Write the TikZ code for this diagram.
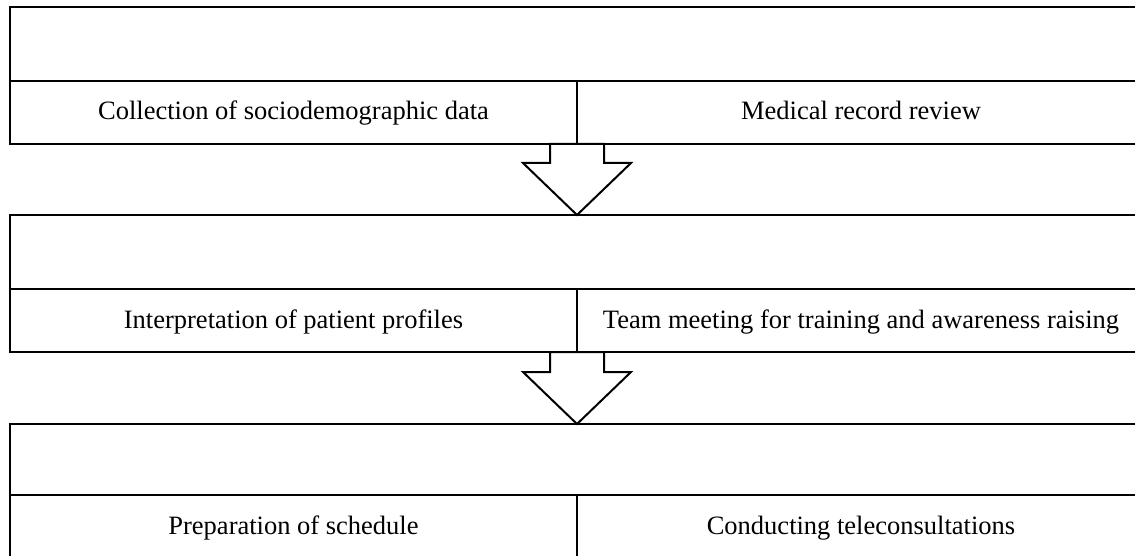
\documentclass[tikz,border=0pt]{standalone}
\usepackage{fontspec}
\setmainfont{Liberation Serif}
\usetikzlibrary{positioning, calc}

\begin{document}
\begin{tikzpicture}[x=1pt, y=-1pt,
    head/.style={draw, line width=2pt, outer sep=0pt, inner sep=0pt, minimum width=1135pt, minimum height=74pt},
    cell/.style={draw, line width=2pt, outer sep=0pt, inner sep=0pt, minimum width=567pt, minimum height=63pt,
        text height=20pt, text depth=5pt, font=\fontsize{26.5}{30}\selectfont},
    blockarrow/.style={draw, line width=2pt, fill=white, line join=miter}]
    \clip (0,0) rectangle (1135,556);
    % stage 1
    \node[head] (head1) at (577.5,44) {};
    \node[cell, below right=0pt and 0pt of head1.south west] (collect) {Collection of sociodemographic data};
    \node[cell, right=0pt of collect, minimum width=568pt] (review) {Medical record review};
    % stage 2
    \node[head] (head2) at (577.5,252) {};
    \node[cell, below right=0pt and 0pt of head2.south west] (interp) {Interpretation of patient profiles};
    \node[cell, right=0pt of interp, minimum width=568pt] (meeting) {Team meeting for training and awareness raising};
    % stage 3
    \node[head, minimum height=71pt] (head3) at (577.5,459.5) {};
    \node[cell, below right=0pt and 0pt of head3.south west] (sched) {Preparation of schedule};
    \node[cell, right=0pt of sched, minimum width=568pt] (telecons) {Conducting teleconsultations};
    % arrows
    \draw[blockarrow] ($(collect.south east)+(-27,0)$) -- ++(0,19) -- ++(-27,0)
        -- (collect.south east |- head2.north) -- ++(54,-52) -- ++(-27,0) -- ++(0,-19) -- cycle;
    \draw[blockarrow] ($(interp.south east)+(-27,0)$) -- ++(0,20) -- ++(-27,0)
        -- (interp.south east |- head3.north) -- ++(54,-52) -- ++(-27,0) -- ++(0,-20) -- cycle;
\end{tikzpicture}
\end{document}
